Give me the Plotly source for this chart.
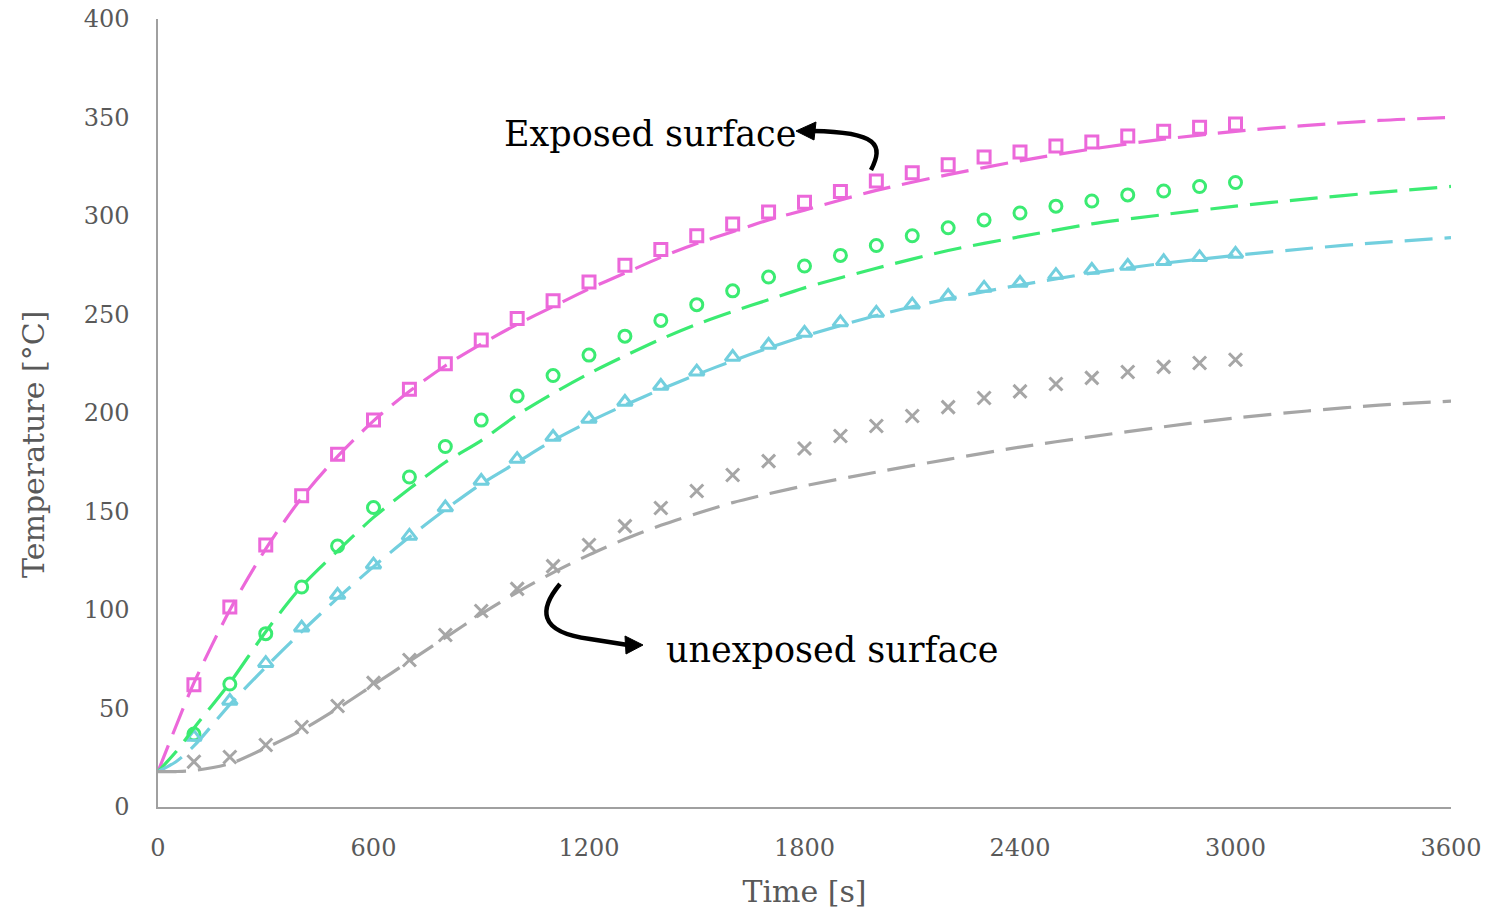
import plotly.graph_objects as go

# ---------------- data ----------------
t_meas = [100, 200, 300, 400, 500, 600, 700, 800, 900, 1000,
          1100, 1200, 1300, 1400, 1500, 1600, 1700, 1800, 1900, 2000,
          2100, 2200, 2300, 2400, 2500, 2600, 2700, 2800, 2900, 3000]

exp_surface = [62, 101.5, 133, 158, 179, 196.5, 212, 225, 237, 248,
               257, 266.5, 275, 283, 290, 296, 302, 307, 312.5, 317.8,
               322, 326, 330, 332.5, 335.5, 337.6, 340.6, 343, 345, 346.7]
layer_2 = [37, 62.4, 88, 111.7, 132.5, 152, 167.5, 183, 196.4, 208.6,
           219, 229.4, 239, 247, 255, 262, 269, 274.6, 280, 285,
           290, 294, 298, 301.5, 305, 307.6, 310.7, 312.7, 315, 317]
layer_3 = [35.5, 53.8, 73, 91, 107.6, 123, 137.6, 152, 165.5, 176.6,
           187.8, 197, 205.6, 213.7, 221, 228.4, 234.5, 240.6, 246, 250.8,
           255, 259.4, 263.5, 266, 270, 272.6, 274.6, 277, 279, 280.7]
unexp_surface = [23, 25.4, 31.5, 40.6, 51.3, 63, 74.6, 87.3, 99.5, 110.7,
                 122.3, 133, 142.6, 151.8, 160.4, 168.5, 175.6, 182, 188.3, 193.4,
                 198.5, 203, 207.6, 211, 214.7, 217.8, 220.8, 223.4, 225.4, 227]

t_model = [0, 50, 100, 200, 300, 400, 500, 600, 700, 800, 900, 1000,
           1100, 1200, 1300, 1400, 1500, 1600, 1700, 1800, 2000,
           2200, 2400, 2600, 2800, 3000, 3200, 3400, 3600]
model_exp = [18, 41, 63, 100, 131, 157, 178, 196, 211, 224, 235, 245,
             254, 263, 271, 279, 286, 292, 298, 303, 313,
             321, 328, 334, 339, 343, 346, 348.5, 350]
model_2 = [18, 28, 40, 63, 89, 112, 130, 147, 161.5, 175, 186, 199,
           210, 220, 229, 237.5, 245, 251.5, 257.5, 263.5, 273.5,
           282.5, 289.5, 296, 300.7, 305, 308.7, 312, 315]
model_3 = [18, 23, 31, 52, 71, 89, 106, 122, 137, 151, 164, 175,
           186, 195.5, 204, 212, 219.5, 226.5, 233, 239, 249.5,
           258, 265, 271, 276, 280, 283.5, 286.5, 289]
model_unexp = [18, 18, 18.5, 22, 30, 39, 50, 62, 74, 86, 98, 109,
               119, 128, 136, 143, 149, 154.5, 159, 163, 170,
               176.5, 182.7, 188, 193, 197.5, 201, 204, 206]

x_ticks = [0, 600, 1200, 1800, 2400, 3000, 3600]
y_ticks = [0, 50, 100, 150, 200, 250, 300, 350, 400]

# ---------------- style ----------------
C_MAG = "#EC68DA"
C_GRN = "#3BEB72"
C_CYA = "#72CFDE"
C_GRY = "#A6A6A6"
FONT = "DejaVu Serif"
DASH = "28px,12px"

W, H = 1489, 912
L, R, T, B = 158, 38, 19, 105
PW, PH = W - L - R, H - T - B


def px(xp, yp):
    """pixel position -> paper coordinates (for decorations only)"""
    return (xp - L) / PW, (H - B - yp) / PH


def path(cmds):
    out = []
    for c in cmds:
        if isinstance(c, str):
            out.append(c)
        else:
            x, y = px(*c)
            out.append(f"{x:.5f},{y:.5f}")
    return " ".join(out)


fig = go.Figure()

series = [
    (model_exp, exp_surface, C_MAG, "square-open", 12),
    (model_2, layer_2, C_GRN, "circle-open", 12),
    (model_3, layer_3, C_CYA, "triangle-up-open", 13),
    (model_unexp, unexp_surface, C_GRY, "x-thin", 13),
]
for model, meas, col, sym, size in series:
    fig.add_trace(go.Scatter(
        x=t_meas, y=meas, mode="markers",
        marker=dict(symbol=sym, size=size, color=col,
                    line=dict(color=col, width=3)),
        showlegend=False, hoverinfo="skip"))
for model, meas, col, sym, size in series:
    fig.add_trace(go.Scatter(
        x=t_model, y=model, mode="lines",
        line=dict(color=col, width=3.2, dash=DASH, shape="spline", smoothing=0.8),
        showlegend=False, hoverinfo="skip"))

shapes = [
    # curved arrow to "Exposed surface"
    dict(type="path", xref="paper", yref="paper",
         path=path(["M", (871, 170), "C", (884, 145), (878, 132), (813, 131)]),
         line=dict(color="black", width=4.5)),
    dict(type="path", xref="paper", yref="paper",
         path=path(["M", (796, 131), "L", (816, 122), "L", (814, 140), "Z"]),
         fillcolor="black", line=dict(color="black", width=1)),
    # curved arrow to "unexposed surface"
    dict(type="path", xref="paper", yref="paper",
         path=path(["M", (560, 584), "C", (540, 608), (536, 632), (590, 639),
                    "L", (628, 645)]),
         line=dict(color="black", width=4.5)),
    dict(type="path", xref="paper", yref="paper",
         path=path(["M", (643, 645), "L", (625, 636), "L", (626, 654), "Z"]),
         fillcolor="black", line=dict(color="black", width=1)),
]

ex, ey = px(798, 134)
ux, uy = px(664, 650)
tx, ty = px(33, 445)
annotations = [
    dict(text="Exposed surface", x=ex, y=ey, xref="paper", yref="paper",
         xanchor="right", yanchor="middle", showarrow=False,
         font=dict(family=FONT, size=35, color="black")),
    dict(text="unexposed surface", x=ux, y=uy, xref="paper", yref="paper",
         xanchor="left", yanchor="middle", showarrow=False,
         font=dict(family=FONT, size=35, color="black")),
    dict(text="Temperature [°C]", x=tx, y=ty, xref="paper", yref="paper",
         xanchor="center", yanchor="middle", showarrow=False, textangle=-90,
         font=dict(family=FONT, size=30, color="#595959")),
]

fig.update_layout(
    width=W, height=H,
    margin=dict(l=L, r=R, t=T, b=B, autoexpand=False),
    paper_bgcolor="white", plot_bgcolor="white",
    shapes=shapes, annotations=annotations,
    font=dict(family=FONT, color="#595959"),
    xaxis=dict(range=[0, 3600], tickvals=x_ticks, ticktext=[str(v) for v in x_ticks],
               showgrid=False, zeroline=False, showline=True, linecolor="#A0A0A0",
               linewidth=1.5, ticks="", ticklabelstandoff=18, automargin=False,
               tickfont=dict(family=FONT, size=24, color="#595959"),
               title=dict(text="Time [s]", standoff=20,
                          font=dict(family=FONT, size=30, color="#595959"))),
    yaxis=dict(range=[0, 400], tickvals=y_ticks, ticktext=[str(v) for v in y_ticks],
               showgrid=False, zeroline=False, showline=True, linecolor="#A0A0A0",
               linewidth=1.5, ticks="", ticklabelstandoff=22, automargin=False,
               tickfont=dict(family=FONT, size=24, color="#595959")),
)

fig.write_html("out.html")
